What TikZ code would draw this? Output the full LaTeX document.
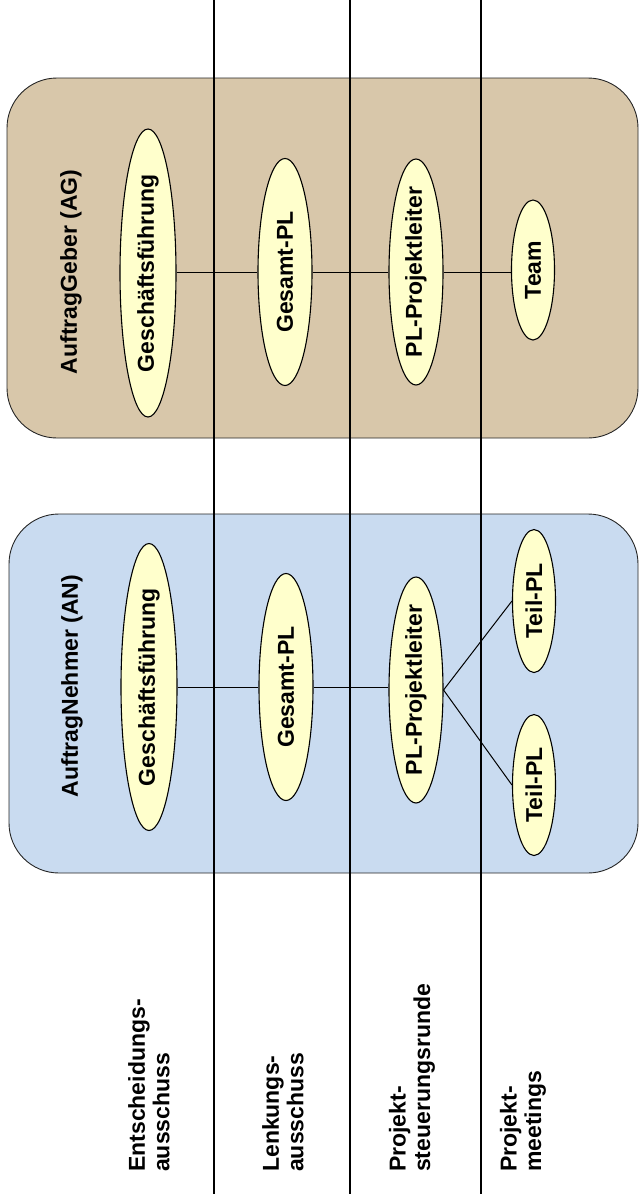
\documentclass[tikz,border=0pt]{standalone}
\usepackage{fontspec}
\setmainfont{Liberation Sans}
\usetikzlibrary{shapes.geometric}
\definecolor{agfarbe}{RGB}{216,199,170}
\definecolor{anfarbe}{RGB}{201,219,240}
\definecolor{rollefarbe}{RGB}{255,255,204}
\tikzset{
rolle/.style={ellipse,draw,line width=1.1pt,fill=rollefarbe,rotate=90,inner sep=-8pt},
partei/.style={draw=black!85,line width=0.9pt,rounded corners=50pt},
titel/.style={rotate=90,inner sep=0pt},
gremium/.style={rotate=90,anchor=west,align=left,inner sep=0pt},
trenner/.style={line width=1.2pt},
verbindung/.style={line width=1pt}}

\begin{document}
\begin{tikzpicture}[x=1pt,y=-1pt,font=\fontsize{23}{24.5}\selectfont\bfseries]

\useasboundingbox (0,0) rectangle (639,1197);

\filldraw[partei,fill=agfarbe] (7,78) rectangle (638,438);
\filldraw[partei,fill=anfarbe] (9,514) rectangle (638,873);

\foreach \x in {214,350,481}
	\draw[trenner] (\x,0) -- (\x,1194);

\node[titel] (ag) at (71,272) {AuftragGeber (AG)};
\node[titel] (an) at (72,686) {AuftragNehmer (AN)};

% Auftraggeber
\node[rolle,minimum width=288,minimum height=56] (g1) at (148,273) {Geschäftsführung};
\node[rolle,minimum width=227,minimum height=54] (g2) at (285,272) {Gesamt-PL};
\node[rolle,minimum width=226,minimum height=54] (g3) at (416,272) {PL-Projektleiter};
\node[rolle,minimum width=140,minimum height=43] (g4) at (533,270) {Team};

% Auftragnehmer
\node[rolle,minimum width=287,minimum height=56] (n1) at (149,687) {Geschäftsführung};
\node[rolle,minimum width=227,minimum height=54] (n2) at (286,687) {Gesamt-PL};
\node[rolle,minimum width=226,minimum height=54] (n3) at (416,690) {PL-Projektleiter};
\node[rolle,minimum width=143,minimum height=43] (n4) at (534,601) {Teil-PL};
\node[rolle,minimum width=141,minimum height=43] (n5) at (534,785) {Teil-PL};

\path[verbindung]
	(g1.south |- g2.north) edge (g2.north)
	(g2.south) edge (g3.north)
	(g3.south) edge (g4.north |- g3.south);
\path[verbindung]
	(n1.south) edge (n2.north)
	(n2.south) edge (n3.north |- n2.south)
	(n3.south) edge (n4.north)
	(n3.south) edge (n5.north);

% Gremien
\node[gremium] (r1) at (149,1172) {Entscheidungs-\\ausschuss};
\node[gremium] (r2) at (283,1172) {Lenkungs-\\ausschuss};
\node[gremium] (r3) at (412,1172) {Projekt-\\steuerungsrunde};
\node[gremium] (r4) at (523,1172) {Projekt-\\meetings};
\end{tikzpicture}
\end{document}
